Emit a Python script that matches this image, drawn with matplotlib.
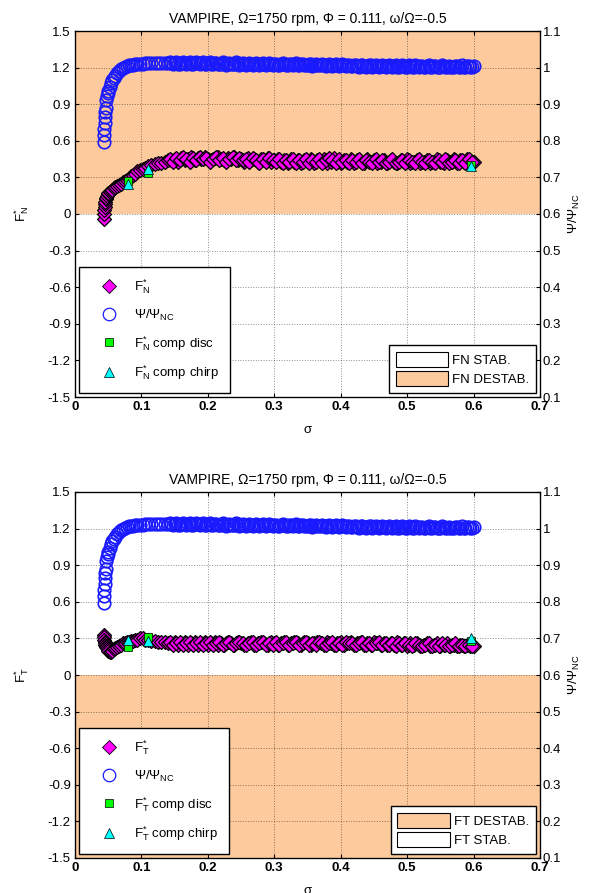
import matplotlib
matplotlib.use("Agg")
import matplotlib.pyplot as plt
from matplotlib.patches import Patch
from matplotlib.lines import Line2D

plt.rcParams['font.family'] = ['Liberation Sans', 'DejaVu Sans']
plt.rcParams['mathtext.fontset'] = 'custom'
plt.rcParams['mathtext.rm'] = 'Liberation Sans'
plt.rcParams['mathtext.it'] = 'Liberation Sans'
plt.rcParams['mathtext.bf'] = 'Liberation Sans:bold'

# ── measured data, sweep A ────────────────────────────────────────────────────
sigma = [
    0.0430, 0.0435, 0.0440, 0.0445, 0.0450, 0.0455, 0.0460, 0.0470, 0.0480,
    0.0490, 0.0500, 0.0520, 0.0540, 0.0560, 0.0580, 0.0600, 0.0630, 0.0660,
    0.0690, 0.0720, 0.0750, 0.0780, 0.0810, 0.0840, 0.0870, 0.0900, 0.0940,
    0.0980, 0.1020, 0.1060, 0.1100, 0.115, 0.120, 0.125, 0.130, 0.135, 0.140,
    0.145, 0.150, 0.155, 0.160, 0.165, 0.170, 0.175, 0.180, 0.185, 0.190, 0.195,
    0.200, 0.205, 0.210, 0.215, 0.220, 0.225, 0.230, 0.235, 0.240, 0.245, 0.250,
    0.255, 0.260, 0.265, 0.270, 0.275, 0.280, 0.285, 0.290, 0.295, 0.300, 0.305,
    0.310, 0.315, 0.320, 0.325, 0.330, 0.335, 0.340, 0.345, 0.350, 0.355, 0.360,
    0.365, 0.370, 0.375, 0.380, 0.385, 0.390, 0.395, 0.400, 0.405, 0.410, 0.415,
    0.420, 0.425, 0.430, 0.435, 0.440, 0.445, 0.450, 0.455, 0.460, 0.465, 0.470,
    0.475, 0.480, 0.485, 0.490, 0.495, 0.500, 0.505, 0.510, 0.515, 0.520, 0.525,
    0.530, 0.535, 0.540, 0.545, 0.550, 0.555, 0.560, 0.565, 0.570, 0.575, 0.580,
    0.585, 0.590, 0.595, 0.600,
]

fn_star = [
    -0.04, 0.00, 0.03, 0.06, 0.08, 0.10, 0.12, 0.13, 0.15,
    0.16, 0.17, 0.18, 0.19, 0.20, 0.21, 0.22, 0.23, 0.24,
    0.25, 0.26, 0.27, 0.28, 0.29, 0.31, 0.32, 0.33, 0.35,
    0.36, 0.37, 0.38, 0.39, 0.40, 0.41, 0.42, 0.42, 0.43, 0.44,
    0.44, 0.45, 0.43, 0.46, 0.44, 0.45, 0.47, 0.44, 0.46, 0.45, 0.47,
    0.45, 0.44, 0.46, 0.47, 0.45, 0.44, 0.46, 0.45, 0.47, 0.44, 0.45,
    0.43, 0.46, 0.44, 0.45, 0.43, 0.45, 0.44, 0.46, 0.43, 0.44, 0.45,
    0.43, 0.44, 0.42, 0.45, 0.43, 0.44, 0.42, 0.44, 0.43, 0.45, 0.42,
    0.44, 0.43, 0.45, 0.42, 0.43, 0.46, 0.43, 0.42, 0.44, 0.43, 0.45,
    0.42, 0.44, 0.43, 0.42, 0.45, 0.43, 0.44, 0.42, 0.43, 0.44, 0.42,
    0.44, 0.43, 0.42, 0.44, 0.43, 0.45, 0.42, 0.43, 0.44, 0.42, 0.43,
    0.44, 0.42, 0.43, 0.45, 0.43, 0.42, 0.44, 0.43, 0.45, 0.42, 0.44,
    0.43, 0.45, 0.44, 0.43,
]

ft_star = [
    0.33, 0.31, 0.29, 0.27, 0.26, 0.25, 0.24, 0.23, 0.22,
    0.21, 0.20, 0.19, 0.19, 0.20, 0.21, 0.22, 0.23, 0.24,
    0.25, 0.26, 0.26, 0.27, 0.27, 0.28, 0.28, 0.29, 0.29,
    0.30, 0.30, 0.29, 0.29, 0.28, 0.28, 0.27, 0.27, 0.27, 0.26,
    0.26, 0.27, 0.25, 0.26, 0.27, 0.25, 0.26, 0.27, 0.25, 0.26, 0.27,
    0.25, 0.26, 0.27, 0.25, 0.26, 0.25, 0.27, 0.26, 0.25, 0.27, 0.26,
    0.25, 0.26, 0.27, 0.25, 0.26, 0.27, 0.26, 0.25, 0.27, 0.26, 0.25,
    0.26, 0.27, 0.25, 0.26, 0.27, 0.26, 0.25, 0.27, 0.26, 0.25, 0.26,
    0.27, 0.26, 0.25, 0.27, 0.26, 0.25, 0.26, 0.27, 0.25, 0.26, 0.27,
    0.25, 0.26, 0.27, 0.25, 0.26, 0.25, 0.27, 0.26, 0.25, 0.26, 0.25,
    0.26, 0.25, 0.27, 0.25, 0.26, 0.24, 0.26, 0.25, 0.26, 0.24, 0.25,
    0.26, 0.24, 0.25, 0.26, 0.24, 0.25, 0.26, 0.24, 0.25, 0.24, 0.25,
    0.24, 0.25, 0.24, 0.24,
]

psi_ratio = [
    0.797, 0.815, 0.833, 0.850, 0.865, 0.878, 0.890, 0.912, 0.922,
    0.930, 0.937, 0.948, 0.958, 0.966, 0.972, 0.978, 0.985, 0.990,
    0.995, 0.999, 1.002, 1.004, 1.006, 1.007, 1.008, 1.009, 1.010,
    1.011, 1.011, 1.012, 1.012, 1.012, 1.012, 1.012, 1.012, 1.012, 1.012,
    1.012, 1.013, 1.011, 1.012, 1.013, 1.012, 1.011, 1.013, 1.012, 1.012, 1.011,
    1.012, 1.011, 1.012, 1.010, 1.011, 1.012, 1.011, 1.010, 1.011, 1.012, 1.010,
    1.011, 1.010, 1.011, 1.009, 1.010, 1.011, 1.009, 1.010, 1.009, 1.010, 1.008,
    1.009, 1.010, 1.008, 1.009, 1.010, 1.008, 1.009, 1.007, 1.008, 1.009, 1.007,
    1.008, 1.007, 1.008, 1.006, 1.007, 1.008, 1.006, 1.007, 1.006, 1.007, 1.005,
    1.006, 1.005, 1.006, 1.004, 1.005, 1.006, 1.004, 1.005, 1.004, 1.005, 1.004,
    1.004, 1.005, 1.003, 1.004, 1.005, 1.003, 1.004, 1.003, 1.004, 1.005, 1.003,
    1.004, 1.003, 1.004, 1.002, 1.003, 1.004, 1.003, 1.002, 1.003, 1.004, 1.003,
    1.003, 1.004, 1.003, 1.004,
]

# ── sweep B (interleaved samples on the plateau) ──────────────────────────────
sigma_b = [
    0.1425, 0.1475, 0.1525, 0.1575, 0.1625, 0.1675, 0.1725, 0.1775, 0.1825, 0.1875, 0.1925,
    0.1975, 0.2025, 0.2075, 0.2125, 0.2175, 0.2225, 0.2275, 0.2325, 0.2375, 0.2425, 0.2475,
    0.2525, 0.2575, 0.2625, 0.2675, 0.2725, 0.2775, 0.2825, 0.2875, 0.2925, 0.2975, 0.3025,
    0.3075, 0.3125, 0.3175, 0.3225, 0.3275, 0.3325, 0.3375, 0.3425, 0.3475, 0.3525, 0.3575,
    0.3625, 0.3675, 0.3725, 0.3775, 0.3825, 0.3875, 0.3925, 0.3975, 0.4025, 0.4075, 0.4125,
    0.4175, 0.4225, 0.4275, 0.4325, 0.4375, 0.4425, 0.4475, 0.4525, 0.4575, 0.4625, 0.4675,
    0.4725, 0.4775, 0.4825, 0.4875, 0.4925, 0.4975, 0.5025, 0.5075, 0.5125, 0.5175, 0.5225,
    0.5275, 0.5325, 0.5375, 0.5425, 0.5475, 0.5525, 0.5575, 0.5625, 0.5675, 0.5725, 0.5775,
    0.5825, 0.5875, 0.5925, 0.5975,
]

fn_star_b = [
    0.45, 0.43, 0.46, 0.44, 0.47, 0.45, 0.43, 0.46, 0.44, 0.47, 0.45,
    0.46, 0.43, 0.45, 0.47, 0.44, 0.46, 0.43, 0.45, 0.47, 0.44, 0.46,
    0.44, 0.45, 0.43, 0.46, 0.44, 0.42, 0.45, 0.43, 0.46, 0.44, 0.43,
    0.45, 0.42, 0.44, 0.43, 0.45, 0.42, 0.44, 0.43, 0.45, 0.42, 0.44,
    0.43, 0.45, 0.42, 0.44, 0.46, 0.44, 0.42, 0.45, 0.43, 0.44, 0.42,
    0.44, 0.43, 0.45, 0.42, 0.44, 0.43, 0.42, 0.45, 0.43, 0.44, 0.42,
    0.43, 0.45, 0.42, 0.43, 0.44, 0.42, 0.44, 0.43, 0.42, 0.45, 0.43,
    0.42, 0.44, 0.43, 0.42, 0.44, 0.43, 0.45, 0.42, 0.43, 0.44, 0.42,
    0.44, 0.42, 0.45, 0.43,
]

ft_star_b = [
    0.27, 0.25, 0.26, 0.27, 0.25, 0.26, 0.27, 0.25, 0.26, 0.27, 0.25,
    0.26, 0.27, 0.25, 0.26, 0.27, 0.25, 0.26, 0.27, 0.25, 0.26, 0.27,
    0.26, 0.25, 0.26, 0.27, 0.25, 0.26, 0.27, 0.25, 0.26, 0.25, 0.27,
    0.25, 0.26, 0.27, 0.25, 0.26, 0.27, 0.25, 0.26, 0.27, 0.25, 0.26,
    0.25, 0.27, 0.26, 0.25, 0.26, 0.27, 0.25, 0.26, 0.25, 0.27, 0.26,
    0.26, 0.25, 0.26, 0.27, 0.25, 0.26, 0.25, 0.26, 0.27, 0.25, 0.26,
    0.25, 0.26, 0.24, 0.26, 0.25, 0.26, 0.25, 0.24, 0.26, 0.25, 0.24,
    0.25, 0.26, 0.24, 0.25, 0.24, 0.26, 0.25, 0.24, 0.25, 0.26, 0.24,
    0.25, 0.24, 0.25, 0.24,
]

psi_ratio_b = [
    1.015, 1.009, 1.014, 1.010, 1.015, 1.009, 1.014, 1.010, 1.015, 1.009, 1.014,
    1.010, 1.014, 1.009, 1.013, 1.010, 1.014, 1.008, 1.013, 1.009, 1.014, 1.008,
    1.013, 1.008, 1.012, 1.007, 1.013, 1.008, 1.012, 1.007, 1.012, 1.008, 1.011,
    1.007, 1.012, 1.006, 1.011, 1.007, 1.012, 1.006, 1.011, 1.006, 1.011, 1.005,
    1.010, 1.006, 1.010, 1.005, 1.010, 1.004, 1.009, 1.005, 1.009, 1.004, 1.008,
    1.004, 1.008, 1.003, 1.008, 1.003, 1.007, 1.002, 1.007, 1.003, 1.007, 1.002,
    1.006, 1.002, 1.007, 1.001, 1.006, 1.002, 1.006, 1.001, 1.006, 1.002, 1.005,
    1.001, 1.006, 1.002, 1.005, 1.001, 1.006, 1.002, 1.005, 1.001, 1.005, 1.002,
    1.006, 1.002, 1.005, 1.003,
]

comp_sigma = [0.080, 0.110, 0.596]
fn_comp_disc = [0.27, 0.34, 0.40]
fn_comp_chirp = [0.25, 0.37, 0.39]
ft_comp_disc = [0.23, 0.31, 0.28]
ft_comp_chirp = [0.29, 0.28, 0.30]

left_ticks = [-1.5, -1.2, -0.9, -0.6, -0.3, 0, 0.3, 0.6, 0.9, 1.2, 1.5]
left_ticklabels = ['-1.5', '-1.2', '-0.9', '-0.6', '-0.3', '0', '0.3', '0.6', '0.9', '1.2', '1.5']
right_ticks = [0.1, 0.2, 0.3, 0.4, 0.5, 0.6, 0.7, 0.8, 0.9, 1.0, 1.1]
right_ticklabels = ['0.1', '0.2', '0.3', '0.4', '0.5', '0.6', '0.7', '0.8', '0.9', '1', '1.1']
x_ticks = [0, 0.1, 0.2, 0.3, 0.4, 0.5, 0.6, 0.7]
x_ticklabels = ['0', '0.1', '0.2', '0.3', '0.4', '0.5', '0.6', '0.7']

TITLE = 'VAMPIRE, Ω=1750 rpm, Φ = 0.111, ω/Ω=-0.5'

# ── styles ────────────────────────────────────────────────────────────────────
PEACH = '#fcca9c'
FS = 9.5
DIAMOND = dict(ls='none', marker='D', ms=6.8, mfc='#ff00ff', mec='black', mew=0.9)
CIRCLE = dict(ls='none', marker='o', ms=9.0, mfc='none', mec='#1a1aff', mew=1.2)
SQUARE = dict(ls='none', marker='s', ms=5.5, mfc='#00ff00', mec='black', mew=0.5)
TRIANGLE = dict(ls='none', marker='^', ms=7, mfc='#00ffff', mec='black', mew=0.5)
LEG_DIAMOND = dict(DIAMOND, mew=0.6)
LEG_CIRCLE = dict(CIRCLE, mew=0.9)


def draw_panel(ax, force, force_b, disc, chirp, sub, destab_above):
    # stability regions
    if destab_above:
        ax.axhspan(0, 1.5, facecolor=PEACH, edgecolor='none', zorder=0)
        stab = [(Patch(facecolor='white', edgecolor='black', lw=0.8), f'{sub} STAB.'),
                (Patch(facecolor=PEACH, edgecolor='black', lw=0.8), f'{sub} DESTAB.')]
    else:
        ax.axhspan(-1.5, 0, facecolor=PEACH, edgecolor='none', zorder=0)
        stab = [(Patch(facecolor=PEACH, edgecolor='black', lw=0.8), f'{sub} DESTAB.'),
                (Patch(facecolor='white', edgecolor='black', lw=0.8), f'{sub} STAB.')]

    letter = sub[1]
    fname = r'F$^{*}_{\mathrm{%s}}$' % letter

    ax.plot(sigma, force, zorder=3, **DIAMOND)
    ax.plot(sigma_b, force_b, zorder=3, **DIAMOND)
    ax.plot(comp_sigma, disc, zorder=4, **SQUARE)
    ax.plot(comp_sigma, chirp, zorder=5, **TRIANGLE)

    ax.set_xlim(0, 0.7)
    ax.set_ylim(-1.5, 1.5)
    ax.set_xticks(x_ticks)
    ax.set_xticklabels(x_ticklabels, fontsize=FS, fontweight='bold')
    ax.set_yticks(left_ticks)
    ax.set_yticklabels(left_ticklabels, fontsize=FS)
    ax.tick_params(direction='in', length=3, width=0.8, top=True, right=False, pad=3)
    ax.grid(True, ls=':', lw=0.7, color='black', alpha=0.45)
    ax.set_xlabel('σ', fontsize=FS, labelpad=8)
    ax.set_ylabel(fname, fontsize=FS, labelpad=12)
    ax.set_title(TITLE, fontsize=10, pad=6)
    for s in ax.spines.values():
        s.set_linewidth(0.9)

    # right axis: flux ratio
    tw = ax.twinx()
    tw.plot(sigma, psi_ratio, zorder=3, **CIRCLE)
    tw.plot(sigma_b, psi_ratio_b, zorder=3, **CIRCLE)
    tw.set_ylim(0.1, 1.1)
    tw.set_yticks(right_ticks)
    tw.set_yticklabels(right_ticklabels, fontsize=FS)
    tw.tick_params(direction='in', length=3, width=0.8, pad=2)
    tw.set_ylabel(r'Ψ/Ψ$_{\mathrm{NC}}$', fontsize=FS, labelpad=4)

    handles = [Line2D([], [], **LEG_DIAMOND), Line2D([], [], **LEG_CIRCLE),
               Line2D([], [], **SQUARE), Line2D([], [], **TRIANGLE)]
    labels = [fname, r'Ψ/Ψ$_{\mathrm{NC}}$', fname + ' comp disc', fname + ' comp chirp']
    leg1 = tw.legend(handles, labels, loc='lower left', bbox_to_anchor=(0.0, 0.0),
                     fontsize=FS, frameon=True, fancybox=False, framealpha=1,
                     edgecolor='black', borderaxespad=0.3, handlelength=3.0,
                     handletextpad=0.4, labelspacing=0.85, borderpad=0.8)
    leg1.get_frame().set_linewidth(1.0)
    tw.add_artist(leg1)

    leg2 = tw.legend([h for h, _ in stab], [l for _, l in stab], loc='lower right',
                     bbox_to_anchor=(1.0, 0.0), fontsize=FS, frameon=True,
                     fancybox=False, framealpha=1, edgecolor='black',
                     borderaxespad=0.3, handlelength=4.0, handleheight=1.4,
                     handletextpad=0.3, labelspacing=0.3, borderpad=0.5)
    leg2.get_frame().set_linewidth(1.0)


fig = plt.figure(figsize=(5.95, 8.93), dpi=100)
ax_top = fig.add_axes([75 / 595, 1 - 397 / 893, 465 / 595, 366 / 893])
ax_bot = fig.add_axes([75 / 595, 1 - 858 / 893, 465 / 595, 366 / 893])

draw_panel(ax_top, fn_star, fn_star_b, fn_comp_disc, fn_comp_chirp, 'FN', True)
draw_panel(ax_bot, ft_star, ft_star_b, ft_comp_disc, ft_comp_chirp, 'FT', False)

fig.savefig('out.png', dpi=100)
